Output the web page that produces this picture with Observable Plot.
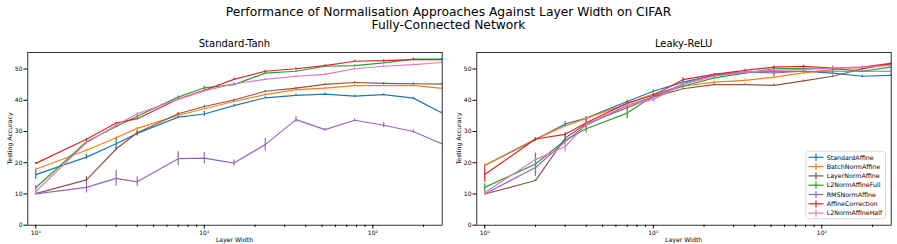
<!DOCTYPE html>
<html><head><meta charset="utf-8">
<script src="https://cdn.jsdelivr.net/npm/d3@7"></script>
<script src="https://cdn.jsdelivr.net/npm/@observablehq/plot@0.6"></script>
<style>
body{margin:0;background:#fff;font-family:"DejaVu Sans",sans-serif;}
#wrap{position:relative;width:897px;height:244px;overflow:hidden;background:#fff;}
#wrap > svg{position:absolute;top:0;}
</style></head><body><div id="wrap"></div>
<script>
// ---------- data ----------
const widths = [1, 2, 3, 4, 7, 10, 15, 23, 35, 52, 78, 116, 174, 256];
const seriesNames = ["StandardAffine","BatchNormAffine","LayerNormAffine","L2NormAffineFull","RMSNormAffine","AffineCorrection","L2NormAffineHalf"];
const seriesColors = ["#1f77b4","#ff7f0e","#8c564b","#2ca02c","#9467bd","#d62728","#e377c2"];
const panelTitles = ["Standard-Tanh","Leaky-ReLU"];
const yTicks = [0, 10, 20, 30, 40, 50];
const xMajorTicks = [1, 10, 100];
const xMinorTicks = [2,3,4,5,6,7,8,9,20,30,40,50,60,70,80,90,200];

// Standard-Tanh
const tanhStandardAffine   = [16.2, 21.8, 26.1, 29.4, 34.6, 35.6, 38.3, 40.8, 41.6, 42.0, 41.3, 41.8, 40.7, 36.0];
const tanhBatchNormAffine  = [17.9, 24.0, 28.0, 31.0, 35.2, 37.3, 39.6, 41.8, 43.4, 43.9, 44.7, 44.7, 44.8, 43.8];
const tanhLayerNormAffine  = [10.1, 14.5, 24.4, 29.6, 35.7, 38.0, 40.1, 42.9, 43.9, 45.1, 45.7, 45.4, 45.3, 45.2];
const tanhL2NormAffineFull = [12.0, 26.7, 31.6, 34.9, 41.0, 44.0, 45.0, 48.7, 49.3, 50.9, 51.1, 52.0, 53.2, 53.2];
const tanhRMSNormAffine    = [10.0, 12.1, 15.0, 13.9, 21.3, 21.5, 19.9, 25.8, 33.8, 30.6, 33.6, 32.0, 30.0, 26.1];
const tanhAffineCorrection = [19.8, 27.5, 32.7, 34.1, 40.4, 43.2, 46.7, 49.3, 50.1, 51.1, 52.5, 52.7, 53.0, 53.0];
const tanhL2NormAffineHalf = [10.8, 26.4, 32.0, 35.7, 40.3, 43.0, 45.3, 46.7, 47.7, 48.3, 50.1, 50.9, 51.4, 52.1];

const tanhErrStandardAffine   = [1.5, 0.8, 1.8, 0.8, 0.4, 0.8, 0.4, 0.3, 0.4, 0.3, 0.4, 0.3, 0.3, 0.3];
const tanhErrBatchNormAffine  = [0.3, 0.3, 0.3, 0.3, 0.3, 0.3, 0.3, 0.3, 0.3, 0.3, 0.3, 0.3, 0.3, 0.3];
const tanhErrLayerNormAffine  = [0.2, 1.2, 0.5, 0.8, 0.4, 0.3, 0.3, 0.3, 0.3, 0.3, 0.3, 0.3, 0.3, 0.3];
const tanhErrL2NormAffineFull = [0.6, 0.4, 0.4, 0.4, 0.4, 0.6, 0.3, 0.4, 0.3, 0.3, 0.3, 0.3, 0.3, 0.3];
const tanhErrRMSNormAffine    = [0.3, 1.8, 2.5, 1.5, 2.2, 1.8, 1.0, 2.0, 1.0, 0.4, 0.5, 0.8, 0.5, 0.3];
const tanhErrAffineCorrection = [0.3, 0.3, 0.3, 0.3, 0.3, 0.3, 0.4, 0.3, 0.3, 0.3, 0.3, 0.3, 0.3, 0.3];
const tanhErrL2NormAffineHalf = [0.8, 0.4, 0.4, 0.4, 0.4, 0.4, 0.3, 0.3, 0.3, 0.3, 0.3, 0.3, 0.3, 0.3];

// Leaky-ReLU
const reluStandardAffine   = [19.1, 27.4, 32.4, 34.3, 39.6, 42.9, 45.8, 48.0, 49.0, 49.3, 49.3, 48.7, 47.7, 48.0];
const reluBatchNormAffine  = [19.2, 27.6, 31.8, 34.2, 38.9, 42.1, 44.5, 45.8, 46.4, 47.4, 48.8, 49.8, 50.1, 51.6];
const reluLayerNormAffine  = [10.0, 14.3, 27.9, 32.5, 37.6, 41.0, 43.7, 45.0, 45.0, 44.8, 46.2, 47.7, 50.1, 51.6];
const reluL2NormAffineFull = [12.1, 19.6, 27.2, 30.9, 35.9, 41.4, 44.5, 47.2, 48.7, 50.1, 50.3, 50.1, 49.3, 50.6];
const reluRMSNormAffine    = [10.0, 18.5, 26.8, 32.0, 38.3, 41.0, 45.3, 48.3, 49.0, 48.8, 49.3, 49.3, 49.3, 49.3];
const reluAffineCorrection = [16.2, 27.6, 29.1, 32.8, 39.1, 41.6, 46.6, 48.3, 49.6, 50.6, 50.9, 50.3, 50.6, 51.8];
const reluL2NormAffineHalf = [10.5, 21.0, 25.2, 32.3, 38.4, 40.3, 45.1, 47.7, 49.0, 49.6, 49.9, 50.3, 50.6, 51.2];

const reluErrStandardAffine   = [0.3, 0.5, 0.8, 0.5, 0.4, 0.5, 0.4, 0.3, 0.3, 1.6, 0.3, 0.3, 0.3, 0.3];
const reluErrBatchNormAffine  = [0.4, 0.3, 0.3, 0.3, 0.3, 0.3, 0.3, 0.3, 0.3, 0.3, 0.3, 0.3, 0.3, 0.3];
const reluErrLayerNormAffine  = [0.2, 0.3, 1.0, 0.8, 0.4, 0.4, 0.3, 0.3, 0.3, 0.3, 0.3, 0.3, 0.3, 0.3];
const reluErrL2NormAffineFull = [1.2, 3.5, 0.8, 1.3, 1.8, 0.5, 0.4, 0.3, 0.3, 0.3, 0.3, 0.3, 0.3, 0.3];
const reluErrRMSNormAffine    = [0.2, 3.0, 0.8, 0.8, 0.5, 0.4, 0.4, 0.3, 0.3, 0.3, 0.3, 0.3, 0.3, 0.3];
const reluErrAffineCorrection = [2.5, 0.4, 0.6, 1.2, 0.4, 0.4, 0.6, 0.3, 0.3, 0.3, 0.3, 0.6, 0.3, 0.3];
const reluErrL2NormAffineHalf = [0.6, 0.5, 1.8, 0.8, 0.5, 1.0, 0.6, 0.5, 0.3, 0.3, 0.3, 0.3, 0.3, 0.3];

const tanhVals = [tanhStandardAffine, tanhBatchNormAffine, tanhLayerNormAffine, tanhL2NormAffineFull, tanhRMSNormAffine, tanhAffineCorrection, tanhL2NormAffineHalf];
const tanhErrs = [tanhErrStandardAffine, tanhErrBatchNormAffine, tanhErrLayerNormAffine, tanhErrL2NormAffineFull, tanhErrRMSNormAffine, tanhErrAffineCorrection, tanhErrL2NormAffineHalf];
const reluVals = [reluStandardAffine, reluBatchNormAffine, reluLayerNormAffine, reluL2NormAffineFull, reluRMSNormAffine, reluAffineCorrection, reluL2NormAffineHalf];
const reluErrs = [reluErrStandardAffine, reluErrBatchNormAffine, reluErrLayerNormAffine, reluErrL2NormAffineFull, reluErrRMSNormAffine, reluErrAffineCorrection, reluErrL2NormAffineHalf];

// ---------- drawing ----------
const sup = {"0":"⁰","1":"¹","2":"²"};
const FONT = "DejaVu Sans, sans-serif";

function panel(vals, errs) {
  const rows = [];
  seriesNames.forEach((n, i) => widths.forEach((w, j) => rows.push({series: n, w, acc: vals[i][j], err: errs[i][j]})));
  const seriesMarks = seriesNames.flatMap(n => {
    const d = rows.filter(r => r.series === n);
    return [
      Plot.line(d, {x: "w", y: "acc", stroke: "series", strokeWidth: 1.2, clip: true}),
      Plot.ruleX(d, {x: "w", y1: r => r.acc - r.err, y2: r => r.acc + r.err, stroke: "series", strokeWidth: 1.2, clip: true})
    ];
  });
  return Plot.plot({
    width: 448, height: 244,
    marginLeft: 27.3, marginRight: 6.3, marginTop: 52, marginBottom: 19.3,
    style: {fontFamily: FONT, fontSize: "6px", background: "transparent", color: "#000", overflow: "visible"},
    x: {type: "log", domain: [0.897, 258], label: null},
    y: {domain: [0, 55.3], label: null},
    color: {domain: seriesNames, range: seriesColors},
    marks: [
      Plot.axisX({ticks: xMinorTicks, tickFormat: () => "", tickSize: 2.2, label: null}),
      Plot.axisX({ticks: xMajorTicks, tickFormat: d => "10" + sup[String(Math.round(Math.log10(d)))], tickSize: 3.8, tickPadding: 1.5, label: null}),
      Plot.axisY({ticks: yTicks, tickSize: 3.8, tickPadding: 1.5, label: null}),
      ...seriesMarks,
      Plot.frame({stroke: "#000", strokeWidth: 0.8})
    ]
  });
}

const wrap = document.getElementById("wrap");
const p1 = panel(tanhVals, tanhErrs);
p1.style.left = "0px";
wrap.appendChild(p1);
const p2 = panel(reluVals, reluErrs);
p2.style.left = "449px";
wrap.appendChild(p2);

// overlay: titles, axis labels, legend
const ov = d3.create("svg").attr("width", 897).attr("height", 244)
  .style("position", "absolute").style("left", "0px").style("top", "0px")
  .style("font-family", FONT);

ov.append("text").attr("x", 448.5).attr("y", 15.7).attr("text-anchor", "middle").attr("font-size", 12.3)
  .text("Performance of Normalisation Approaches Against Layer Width on CIFAR");
ov.append("text").attr("x", 448.5).attr("y", 29.2).attr("text-anchor", "middle").attr("font-size", 12.3)
  .text("Fully-Connected Network");

const centers = [234.5, 683.7];
panelTitles.forEach((t, i) => {
  ov.append("text").attr("x", centers[i]).attr("y", 46.7).attr("text-anchor", "middle").attr("font-size", 10).text(t);
  ov.append("text").attr("x", centers[i]).attr("y", 242).attr("text-anchor", "middle").attr("font-size", 6.2).text("Layer Width");
  const lx = i === 0 ? 12.2 : 461.0;
  ov.append("text").attr("transform", `translate(${lx},138.4) rotate(-90)`).attr("text-anchor", "middle").attr("font-size", 6.2).text("Testing Accuracy");
});

// legend (right panel)
const lg = ov.append("g");
lg.append("rect").attr("x", 806).attr("y", 151.3).attr("width", 79.5).attr("height", 67.4).attr("rx", 2)
  .attr("fill", "#fff").attr("fill-opacity", 0.8).attr("stroke", "#d0d0d0").attr("stroke-width", 0.8);
seriesNames.forEach((n, i) => {
  const y = 157.3 + i * 9.3;
  lg.append("line").attr("x1", 808.5).attr("x2", 823.5).attr("y1", y).attr("y2", y).attr("stroke", seriesColors[i]).attr("stroke-width", 1.2);
  lg.append("line").attr("x1", 816).attr("x2", 816).attr("y1", y - 3.6).attr("y2", y + 3.6).attr("stroke", seriesColors[i]).attr("stroke-width", 1.2);
  lg.append("text").attr("x", 826.7).attr("y", y + 2.2).attr("font-size", 6.3).text(n);
});
wrap.appendChild(ov.node());
</script>
</body></html>
